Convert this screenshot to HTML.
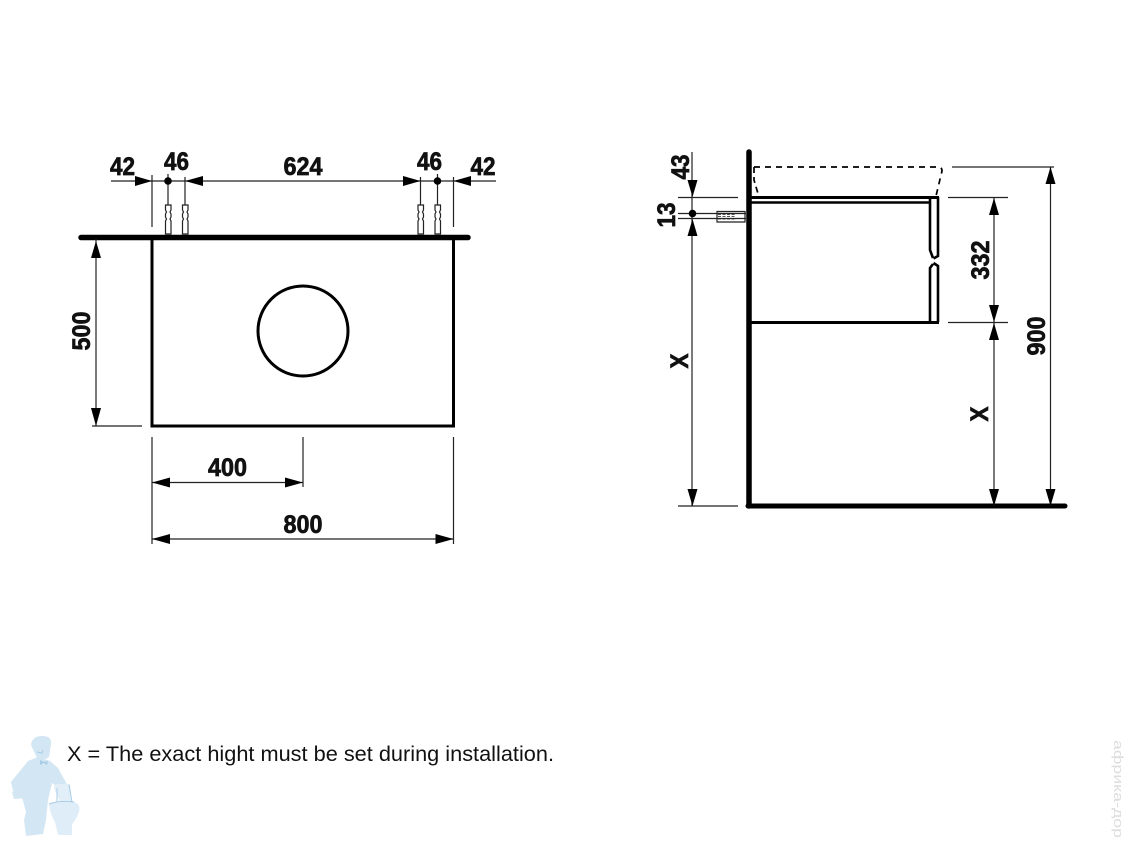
<!DOCTYPE html>
<html>
<head>
<meta charset="utf-8">
<style>
html,body{margin:0;padding:0;background:#fff;}
svg{display:block;}
.d{font-family:"Liberation Sans Narrow","Liberation Sans",sans-serif;font-weight:bold;font-size:25px;fill:#111;stroke:#111;stroke-width:.7;text-anchor:middle;}
.t{stroke:#222;stroke-width:1.2;fill:none;}
.k{stroke:#000;fill:none;}
.a{fill:#000;}
</style>
</head>
<body>
<svg width="1134" height="850" viewBox="0 0 1134 850" xmlns="http://www.w3.org/2000/svg">
<rect width="1134" height="850" fill="#fff"/>

<!-- LEFT VIEW -->
<line x1="81" y1="237.5" x2="468" y2="237.5" class="k" stroke-width="5.5" stroke-linecap="round"/>
<rect x="152" y="238" width="301.5" height="188" class="k" stroke-width="3"/>
<circle cx="303" cy="331" r="45" class="k" stroke-width="3"/>

<!-- top dims -->
<line x1="111" y1="181" x2="496" y2="181" class="t"/>
<line x1="152" y1="175" x2="152" y2="227" class="t"/>
<line x1="168" y1="174" x2="168" y2="205" class="t"/>
<line x1="185" y1="177" x2="185" y2="205" class="t"/>
<line x1="420.5" y1="177" x2="420.5" y2="205" class="t"/>
<line x1="437.5" y1="174" x2="437.5" y2="205" class="t"/>
<line x1="453.5" y1="177" x2="453.5" y2="227" class="t"/>
<circle cx="168" cy="181" r="3.8" class="a"/>
<circle cx="437.5" cy="181" r="3.8" class="a"/>
<polygon class="a" points="152,181 135,176 135,186"/>
<polygon class="a" points="185,181 203,176 203,186"/>
<polygon class="a" points="420.5,181 403,176 403,186"/>
<polygon class="a" points="453.5,181 471,176 471,186"/>

<!-- anchors -->
<g fill="#fff" stroke="#222" stroke-width="1.2">
<path d="M165.5 205h5.5v5l-1 2 1 2v3l-1 2 1 2v13h-5.5v-13l1-2-1-2v-3l1-2-1-2z"/>
<path d="M182.5 205h5.5v5l-1 2 1 2v3l-1 2 1 2v13h-5.5v-13l1-2-1-2v-3l1-2-1-2z"/>
<path d="M418 205h5.5v5l-1 2 1 2v3l-1 2 1 2v13h-5.5v-13l1-2-1-2v-3l1-2-1-2z"/>
<path d="M435 205h5.5v5l-1 2 1 2v3l-1 2 1 2v13h-5.5v-13l1-2-1-2v-3l1-2-1-2z"/>
</g>

<!-- 500 -->
<line x1="96" y1="239" x2="96" y2="426" class="t"/>
<line x1="92" y1="426" x2="142" y2="426" class="t"/>
<polygon class="a" points="96,241 91,258 101,258"/>
<polygon class="a" points="96,426 91,408 101,408"/>

<!-- 400 / 800 -->
<line x1="152" y1="437" x2="152" y2="544" class="t"/>
<line x1="303" y1="437" x2="303" y2="487" class="t"/>
<line x1="453.5" y1="437" x2="453.5" y2="544" class="t"/>
<line x1="152" y1="482.5" x2="303" y2="482.5" class="t"/>
<line x1="152" y1="539" x2="453.5" y2="539" class="t"/>
<polygon class="a" points="152,482.5 170,477.5 170,487.5"/>
<polygon class="a" points="303,482.5 285,477.5 285,487.5"/>
<polygon class="a" points="152,539 170,534 170,544"/>
<polygon class="a" points="453.5,539 435.5,534 435.5,544"/>

<!-- labels left -->
<text class="d" x="122.5" y="175" textLength="25" lengthAdjust="spacingAndGlyphs">42</text>
<text class="d" x="176.5" y="170" textLength="25" lengthAdjust="spacingAndGlyphs">46</text>
<text class="d" x="303" y="175" textLength="39" lengthAdjust="spacingAndGlyphs">624</text>
<text class="d" x="429.5" y="170" textLength="25" lengthAdjust="spacingAndGlyphs">46</text>
<text class="d" x="483" y="175" textLength="25" lengthAdjust="spacingAndGlyphs">42</text>
<text class="d" x="227.5" y="476" textLength="39" lengthAdjust="spacingAndGlyphs">400</text>
<text class="d" x="303" y="533" textLength="39" lengthAdjust="spacingAndGlyphs">800</text>
<text class="d" transform="translate(90,331) rotate(-90)" textLength="39" lengthAdjust="spacingAndGlyphs">500</text>

<!-- RIGHT VIEW -->
<line x1="749" y1="152" x2="749" y2="506" class="k" stroke-width="5.5" stroke-linecap="round"/>
<line x1="748" y1="506" x2="1065" y2="506" class="k" stroke-width="5" stroke-linecap="round"/>

<!-- cabinet -->
<line x1="750" y1="197.5" x2="939" y2="197.5" class="k" stroke-width="3"/>
<line x1="750" y1="202.5" x2="931" y2="202.5" class="k" stroke-width="2.5"/>
<line x1="750" y1="322.5" x2="939" y2="322.5" class="k" stroke-width="3"/>
<path d="M930 197V250L933 258M930 322V268L933 264" class="k" stroke-width="2.6"/>
<path d="M938 197V256L933.5 258.5M938 322V266L933.5 263" class="k" stroke-width="2.6"/>
<!-- dashed basin -->
<path d="M754 167H938Q942 167 942 171L936 196" class="k" stroke-width="1.7" stroke-dasharray="6 5"/>
<path d="M754 167V180L759 197" class="k" stroke-width="1.7" stroke-dasharray="6 4"/>

<!-- anchor right -->
<g stroke="#222" stroke-width="1.2" fill="#fff">
<path d="M717 211.5h28v10.5h-28z"/>
</g>
<path d="M718 214.5h18M718 216.5h18M718 219h18" stroke="#555" stroke-width="1.1" stroke-dasharray="3 1.5" fill="none"/>
<line x1="678" y1="213.5" x2="746" y2="213.5" class="t"/>
<line x1="678" y1="218.5" x2="746" y2="218.5" class="t"/>

<!-- dims right -->
<line x1="692" y1="152" x2="692" y2="506" class="t"/>
<line x1="678" y1="197.5" x2="738" y2="197.5" class="t"/>
<line x1="678" y1="506" x2="738" y2="506" class="t"/>
<circle cx="692.5" cy="213.5" r="3.8" class="a"/>
<polygon class="a" points="692.5,197 687.5,180 697.5,180"/>
<polygon class="a" points="692.5,219 687.5,236 697.5,236"/>
<polygon class="a" points="692.5,506 687.5,489 697.5,489"/>

<line x1="994" y1="197.5" x2="994" y2="506" class="t"/>
<line x1="948" y1="197.5" x2="1008" y2="197.5" class="t"/>
<line x1="948" y1="322.5" x2="1008" y2="322.5" class="t"/>
<polygon class="a" points="994,198 989,215 999,215"/>
<polygon class="a" points="994,322 989,305 999,305"/>
<polygon class="a" points="994,323 989,340 999,340"/>
<polygon class="a" points="994,506 989,489 999,489"/>

<line x1="1050.5" y1="167" x2="1050.5" y2="506" class="t"/>
<line x1="952" y1="167" x2="1054" y2="167" class="t"/>
<polygon class="a" points="1050.5,167 1045.5,184 1055.5,184"/>
<polygon class="a" points="1050.5,506 1045.5,489 1055.5,489"/>

<!-- labels right -->
<text class="d" transform="translate(689,167) rotate(-90)" textLength="25" lengthAdjust="spacingAndGlyphs">43</text>
<text class="d" transform="translate(675,215) rotate(-90)" textLength="25" lengthAdjust="spacingAndGlyphs">13</text>
<text class="d" transform="translate(989,260) rotate(-90)" textLength="39" lengthAdjust="spacingAndGlyphs">332</text>
<text class="d" transform="translate(688,361) rotate(-90)" textLength="15" lengthAdjust="spacingAndGlyphs">X</text>
<text class="d" transform="translate(988,414) rotate(-90)" textLength="15" lengthAdjust="spacingAndGlyphs">X</text>
<text class="d" transform="translate(1045,336) rotate(-90)" textLength="39" lengthAdjust="spacingAndGlyphs">900</text>

<!-- plumber -->
<g fill="#d3e6f4" stroke="none">
<path d="M31 745Q32 736 42 736Q52 736 51 744L49 757Q44 761 37 758Z"/>
<path d="M28 761L38 757L50 761L58 768L69 788L66 793L52 783L48 800L46 820L43 834L26 836L24 820L26 812L22 797L14 795L11 782Z"/>
<path d="M12 792L36 787L45 785L47 792L26 798L14 799Z"/>
<path d="M54 788Q54 783 60 784H70L72 802H60Z" fill="#e2eff8"/>
<path d="M49 804Q60 800 74 802Q81 804 79 812Q76 820 72 824L72 835H58L55 822Q50 814 49 804Z" fill="#dfedf8"/>
</g>
<path d="M37 752l5 1 1-3" stroke="#a9cde6" stroke-width="1" fill="none"/>
<path d="M40 760l4 2 4-1-1 4-3-2-4 2z" fill="#a9cde6"/>
<path d="M49 804Q60 800 74 802M57 788V802M69 785L72 802" stroke="#a9cde6" stroke-width="1" fill="none"/>

<!-- footer text -->
<text x="67" y="761" font-family="'Liberation Sans',sans-serif" font-size="21" fill="#111" textLength="487" lengthAdjust="spacingAndGlyphs">X = The exact hight must be set during installation.</text>

<!-- watermark -->
<text transform="translate(1114,740) rotate(90)" font-family="'Liberation Sans',sans-serif" font-size="13" fill="#ddd" textLength="98" lengthAdjust="spacingAndGlyphs">aфрика-дор</text>
</svg>
</body>
</html>
